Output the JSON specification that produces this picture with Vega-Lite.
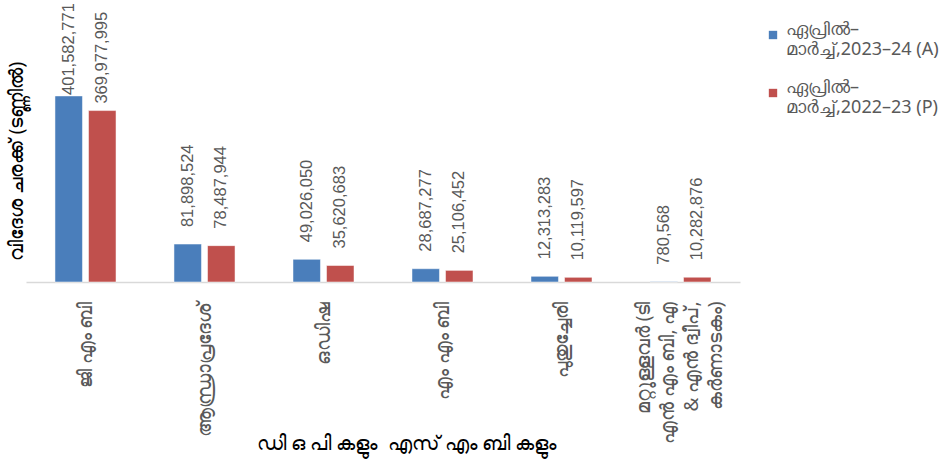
{
  "$schema": "https://vega.github.io/schema/vega-lite/v6.json",
  "width": 714,
  "height": 278,
  "autosize": {"type": "none"},
  "padding": {"left": 26, "top": 4, "right": 204, "bottom": 179},
  "background": "white",
  "config": {"view": {"stroke": null}, "font": "Noto Sans"},
  "data": {
    "values": [
      {"cat": "ജി എം ബി", "period": "ഏപ്രിൽ–മാർച്ച്,2023–24 (A)", "value": 401582771},
      {"cat": "ജി എം ബി", "period": "ഏപ്രിൽ–മാർച്ച്,2022–23 (P)", "value": 369977995},
      {"cat": "ആന്ധ്രാപ്രദേശ്", "period": "ഏപ്രിൽ–മാർച്ച്,2023–24 (A)", "value": 81898524},
      {"cat": "ആന്ധ്രാപ്രദേശ്", "period": "ഏപ്രിൽ–മാർച്ച്,2022–23 (P)", "value": 78487944},
      {"cat": "ഒഡിഷ", "period": "ഏപ്രിൽ–മാർച്ച്,2023–24 (A)", "value": 49026050},
      {"cat": "ഒഡിഷ", "period": "ഏപ്രിൽ–മാർച്ച്,2022–23 (P)", "value": 35620683},
      {"cat": "എം എം ബി", "period": "ഏപ്രിൽ–മാർച്ച്,2023–24 (A)", "value": 28687277},
      {"cat": "എം എം ബി", "period": "ഏപ്രിൽ–മാർച്ച്,2022–23 (P)", "value": 25106452},
      {"cat": "പുതുച്ചേരി", "period": "ഏപ്രിൽ–മാർച്ച്,2023–24 (A)", "value": 12313283},
      {"cat": "പുതുച്ചേരി", "period": "ഏപ്രിൽ–മാർച്ച്,2022–23 (P)", "value": 10119597},
      {"cat": "മറ്റുള്ളവർ (ടി എൻ എം ബി, എ & എൻ ദ്വീപ്, കർണാടകം)", "period": "ഏപ്രിൽ–മാർച്ച്,2023–24 (A)", "value": 780568},
      {"cat": "മറ്റുള്ളവർ (ടി എൻ എം ബി, എ & എൻ ദ്വീപ്, കർണാടകം)", "period": "ഏപ്രിൽ–മാർച്ച്,2022–23 (P)", "value": 10282876}
    ]
  },
  "encoding": {
    "x": {
      "field": "cat",
      "type": "nominal",
      "sort": null,
      "scale": {"paddingInner": 0.487, "paddingOuter": 0.2435},
      "axis": {
        "title": "ഡി ഒ പി കളും \u00a0എസ് എം ബി കളും",
        "titleFontSize": 20,
        "titleColor": "#000000",
        "titleFontWeight": "normal",
        "titleX": 380,
        "titleY": 161,
        "titleAlign": "center",
        "titleBaseline": "middle",
        "labelAngle": -90,
        "labelAlign": "right",
        "labelBaseline": "middle",
        "labelFontSize": 19,
        "labelColor": "#595959",
        "labelPadding": 19,
        "labelLimit": 300,
        "labelLineHeight": 24,
        "labelOffset": {"condition": {"test": "indexof(datum.label, '(') > 0", "value": -37}, "value": 0},
        "labelExpr": "indexof(datum.label, '(') > 0 ? ['മറ്റുള്ളവർ (ടി', 'എൻ എം ബി, എ', '& എൻ ദ്വീപ്,', 'കർണാടകം)'] : datum.label",
        "ticks": false,
        "domainColor": "#d9d9d9",
        "domainWidth": 1.5
      }
    },
    "xOffset": {
      "field": "period",
      "type": "nominal",
      "scale": {"domain": ["ഏപ്രിൽ–മാർച്ച്,2023–24 (A)", "ഏപ്രിൽ–മാർച്ച്,2022–23 (P)"], "paddingInner": 0.18}
    },
    "y": {
      "field": "value",
      "type": "quantitative",
      "scale": {"domain": [0, 600000000]},
      "axis": {
        "title": "വിദേശ ചരക്ക് (ടണ്ണിൽ)",
        "titleFontSize": 19,
        "titleColor": "#000000",
        "titleFontWeight": "normal",
        "titleX": -10,
        "titleY": 157,
        "titleAngle": -90,
        "titleAlign": "center",
        "titleBaseline": "middle",
        "labels": false,
        "ticks": false,
        "domain": false,
        "grid": false
      }
    }
  },
  "layer": [
    {
      "mark": {"type": "bar", "stroke": "#ffffff", "strokeOpacity": 0.5, "strokeWidth": 1},
      "encoding": {
        "color": {
          "field": "period",
          "type": "nominal",
          "scale": {"domain": ["ഏപ്രിൽ–മാർച്ച്,2023–24 (A)", "ഏപ്രിൽ–മാർച്ച്,2022–23 (P)"], "range": ["#4a7ebb", "#c0504d"]},
          "legend": {
            "title": null,
            "orient": "none",
            "legendX": 738,
            "legendY": 22,
            "symbolType": "square",
            "symbolSize": 70,
            "symbolStrokeWidth": 0,
            "labelFontSize": 18,
            "labelColor": "#595959",
            "labelBaseline": "alphabetic",
            "labelLineHeight": 20,
            "labelOffset": 4,
            "labelLimit": 300,
            "rowPadding": 20,
            "labelExpr": "[slice(datum.label, 0, indexof(datum.label, '–') + 1), slice(datum.label, indexof(datum.label, '–') + 1)]"
          }
        }
      }
    },
    {
      "mark": {
        "type": "text",
        "angle": -90,
        "align": "left",
        "baseline": "middle",
        "dx": {"expr": "datum.value > 380000000 ? 1 : datum.value > 300000000 ? 7 : 17"},
        "fontSize": 16.5,
        "color": "#595959",
        "font": "Liberation Sans"
      },
      "encoding": {
        "text": {"field": "value", "type": "quantitative", "format": ","}
      }
    }
  ]
}
